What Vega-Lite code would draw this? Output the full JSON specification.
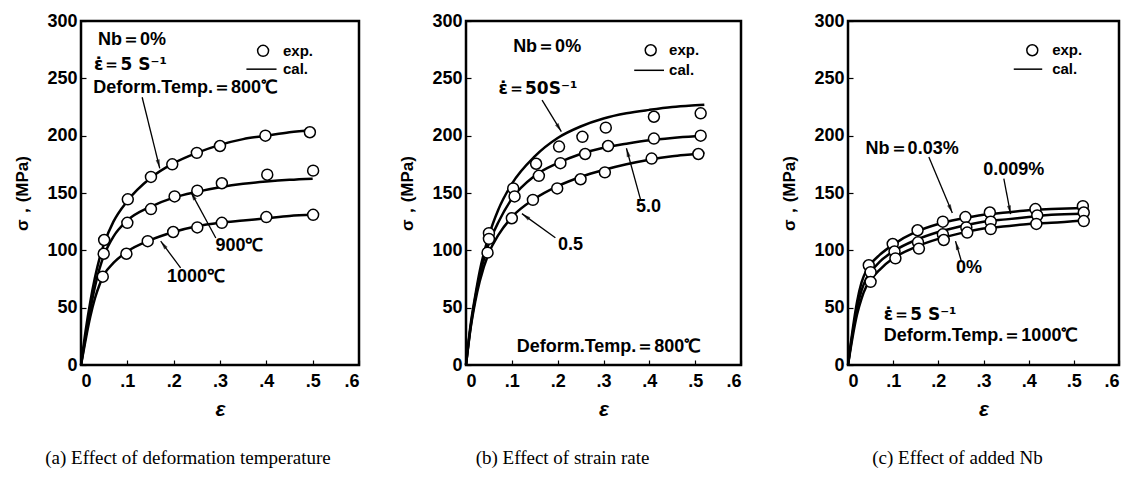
{
  "$schema": "https://vega.github.io/schema/vega-lite/v6.json",
  "background": "white",
  "padding": {"left": 12, "top": 10, "right": 5, "bottom": 5},
  "bounds": "flush",
  "spacing": 107,
  "datasets": {
    "a_pts": [
      {"s": "800", "x": 0.05, "y": 109}, {"s": "800", "x": 0.101, "y": 144.5}, {"s": "800", "x": 0.151, "y": 164}, {"s": "800", "x": 0.197, "y": 175}, {"s": "800", "x": 0.25, "y": 185}, {"s": "800", "x": 0.3, "y": 191}, {"s": "800", "x": 0.398, "y": 200}, {"s": "800", "x": 0.494, "y": 203},
      {"s": "900", "x": 0.049, "y": 97}, {"s": "900", "x": 0.1, "y": 124}, {"s": "900", "x": 0.151, "y": 136}, {"s": "900", "x": 0.202, "y": 147}, {"s": "900", "x": 0.251, "y": 152}, {"s": "900", "x": 0.304, "y": 158.5}, {"s": "900", "x": 0.402, "y": 166}, {"s": "900", "x": 0.501, "y": 169.5},
      {"s": "1000", "x": 0.047, "y": 77}, {"s": "1000", "x": 0.098, "y": 97}, {"s": "1000", "x": 0.144, "y": 108}, {"s": "1000", "x": 0.199, "y": 116}, {"s": "1000", "x": 0.251, "y": 120}, {"s": "1000", "x": 0.304, "y": 124}, {"s": "1000", "x": 0.4, "y": 129}, {"s": "1000", "x": 0.501, "y": 131}
    ],
    "a_cal": [
      {"s": "800", "x": 0, "y": 0}, {"s": "800", "x": 0.01, "y": 30}, {"s": "800", "x": 0.02, "y": 55}, {"s": "800", "x": 0.03, "y": 76}, {"s": "800", "x": 0.04, "y": 93}, {"s": "800", "x": 0.05, "y": 106}, {"s": "800", "x": 0.07, "y": 125}, {"s": "800", "x": 0.1, "y": 143}, {"s": "800", "x": 0.15, "y": 163}, {"s": "800", "x": 0.2, "y": 176}, {"s": "800", "x": 0.25, "y": 185}, {"s": "800", "x": 0.3, "y": 192}, {"s": "800", "x": 0.35, "y": 197}, {"s": "800", "x": 0.4, "y": 200}, {"s": "800", "x": 0.45, "y": 203}, {"s": "800", "x": 0.5, "y": 205},
      {"s": "900", "x": 0, "y": 0}, {"s": "900", "x": 0.01, "y": 25}, {"s": "900", "x": 0.02, "y": 48}, {"s": "900", "x": 0.03, "y": 68}, {"s": "900", "x": 0.04, "y": 84}, {"s": "900", "x": 0.05, "y": 96}, {"s": "900", "x": 0.07, "y": 112}, {"s": "900", "x": 0.1, "y": 126}, {"s": "900", "x": 0.15, "y": 138}, {"s": "900", "x": 0.2, "y": 146}, {"s": "900", "x": 0.25, "y": 151}, {"s": "900", "x": 0.3, "y": 155}, {"s": "900", "x": 0.35, "y": 158}, {"s": "900", "x": 0.4, "y": 160}, {"s": "900", "x": 0.45, "y": 161.5}, {"s": "900", "x": 0.5, "y": 162.5},
      {"s": "1000", "x": 0, "y": 0}, {"s": "1000", "x": 0.01, "y": 22}, {"s": "1000", "x": 0.02, "y": 42}, {"s": "1000", "x": 0.03, "y": 58}, {"s": "1000", "x": 0.04, "y": 70}, {"s": "1000", "x": 0.05, "y": 79}, {"s": "1000", "x": 0.07, "y": 89}, {"s": "1000", "x": 0.1, "y": 99}, {"s": "1000", "x": 0.15, "y": 109}, {"s": "1000", "x": 0.2, "y": 116}, {"s": "1000", "x": 0.25, "y": 121}, {"s": "1000", "x": 0.3, "y": 124}, {"s": "1000", "x": 0.35, "y": 126}, {"s": "1000", "x": 0.4, "y": 128}, {"s": "1000", "x": 0.45, "y": 130}, {"s": "1000", "x": 0.5, "y": 131}
    ],
    "a_txt": [
      {"x": 0.11, "y": 283, "t": "Nb＝0%"},
      {"x": 0.226, "y": 241.5, "t": "Deform.Temp.＝800℃"},
      {"x": 0.342, "y": 103.5, "t": "900℃"},
      {"x": 0.248, "y": 77, "t": "1000℃"}
    ],
    "a_eps": [{"x": 0.028, "y": 262, "t": "ε̇＝5  S⁻¹"}],
    "a_leg": [{"x": 0.436, "y": 274, "t": "exp."}, {"x": 0.436, "y": 258, "t": "cal."}],
    "a_legpt": [{"x": 0.393, "y": 274}],
    "a_rule": [{"x": 0.357, "y": 258, "x2": 0.422, "y2": 258}],
    "a_arr": [
      {"x": 0.132, "y": 233.5, "x2": 0.17, "y2": 171.5},
      {"x": 0.291, "y": 110.7, "x2": 0.237, "y2": 151},
      {"x": 0.215, "y": 84.7, "x2": 0.172, "y2": 108}
    ],
    "b_pts": [
      {"s": "50", "x": 0.05, "y": 115}, {"s": "50", "x": 0.103, "y": 154}, {"s": "50", "x": 0.153, "y": 175.5}, {"s": "50", "x": 0.203, "y": 190.5}, {"s": "50", "x": 0.254, "y": 199}, {"s": "50", "x": 0.305, "y": 207}, {"s": "50", "x": 0.41, "y": 216.5}, {"s": "50", "x": 0.512, "y": 219.5},
      {"s": "5", "x": 0.05, "y": 110}, {"s": "5", "x": 0.106, "y": 147}, {"s": "5", "x": 0.159, "y": 165}, {"s": "5", "x": 0.206, "y": 176}, {"s": "5", "x": 0.26, "y": 184}, {"s": "5", "x": 0.31, "y": 191}, {"s": "5", "x": 0.41, "y": 197.5}, {"s": "5", "x": 0.512, "y": 200},
      {"s": "0.5", "x": 0.047, "y": 98}, {"s": "0.5", "x": 0.1, "y": 128}, {"s": "0.5", "x": 0.146, "y": 144}, {"s": "0.5", "x": 0.199, "y": 154}, {"s": "0.5", "x": 0.25, "y": 162}, {"s": "0.5", "x": 0.303, "y": 168}, {"s": "0.5", "x": 0.405, "y": 180}, {"s": "0.5", "x": 0.507, "y": 184}
    ],
    "b_cal": [
      {"s": "50", "x": 0, "y": 0}, {"s": "50", "x": 0.01, "y": 35}, {"s": "50", "x": 0.02, "y": 60}, {"s": "50", "x": 0.03, "y": 82}, {"s": "50", "x": 0.05, "y": 113}, {"s": "50", "x": 0.07, "y": 135}, {"s": "50", "x": 0.1, "y": 158}, {"s": "50", "x": 0.15, "y": 182}, {"s": "50", "x": 0.2, "y": 198}, {"s": "50", "x": 0.25, "y": 208}, {"s": "50", "x": 0.3, "y": 215}, {"s": "50", "x": 0.35, "y": 219.5}, {"s": "50", "x": 0.4, "y": 222.5}, {"s": "50", "x": 0.45, "y": 225}, {"s": "50", "x": 0.5, "y": 226.5}, {"s": "50", "x": 0.52, "y": 227},
      {"s": "5", "x": 0, "y": 0}, {"s": "5", "x": 0.01, "y": 33}, {"s": "5", "x": 0.02, "y": 58}, {"s": "5", "x": 0.03, "y": 78}, {"s": "5", "x": 0.05, "y": 106}, {"s": "5", "x": 0.07, "y": 124}, {"s": "5", "x": 0.1, "y": 145}, {"s": "5", "x": 0.15, "y": 165}, {"s": "5", "x": 0.2, "y": 176}, {"s": "5", "x": 0.25, "y": 184}, {"s": "5", "x": 0.3, "y": 189.5}, {"s": "5", "x": 0.35, "y": 193}, {"s": "5", "x": 0.4, "y": 196}, {"s": "5", "x": 0.45, "y": 198}, {"s": "5", "x": 0.5, "y": 199.5}, {"s": "5", "x": 0.52, "y": 200},
      {"s": "0.5", "x": 0, "y": 0}, {"s": "0.5", "x": 0.01, "y": 32}, {"s": "0.5", "x": 0.02, "y": 55}, {"s": "0.5", "x": 0.03, "y": 73}, {"s": "0.5", "x": 0.05, "y": 98}, {"s": "0.5", "x": 0.07, "y": 113}, {"s": "0.5", "x": 0.1, "y": 129}, {"s": "0.5", "x": 0.15, "y": 145}, {"s": "0.5", "x": 0.2, "y": 156}, {"s": "0.5", "x": 0.25, "y": 164}, {"s": "0.5", "x": 0.3, "y": 170}, {"s": "0.5", "x": 0.35, "y": 175}, {"s": "0.5", "x": 0.4, "y": 179}, {"s": "0.5", "x": 0.45, "y": 182}, {"s": "0.5", "x": 0.5, "y": 184}, {"s": "0.5", "x": 0.52, "y": 185}
    ],
    "b_txt": [
      {"x": 0.177, "y": 277.5, "t": "Nb＝0%"},
      {"x": 0.398, "y": 138, "t": "5.0"},
      {"x": 0.228, "y": 105, "t": "0.5"},
      {"x": 0.312, "y": 15.5, "t": "Deform.Temp.＝800℃"}
    ],
    "b_eps": [{"x": 0.071, "y": 241, "t": "ε̇＝50S⁻¹"}],
    "b_leg": [{"x": 0.443, "y": 274.5, "t": "exp."}, {"x": 0.443, "y": 257, "t": "cal."}],
    "b_legpt": [{"x": 0.403, "y": 274.5}],
    "b_rule": [{"x": 0.367, "y": 257, "x2": 0.432, "y2": 257}],
    "b_arr": [
      {"x": 0.166, "y": 231, "x2": 0.208, "y2": 203.5},
      {"x": 0.381, "y": 144, "x2": 0.35, "y2": 189},
      {"x": 0.195, "y": 111, "x2": 0.122, "y2": 132}
    ],
    "c_pts": [
      {"s": "0.03", "x": 0.046, "y": 87}, {"s": "0.03", "x": 0.099, "y": 105.5}, {"s": "0.03", "x": 0.154, "y": 117.5}, {"s": "0.03", "x": 0.21, "y": 125}, {"s": "0.03", "x": 0.26, "y": 129}, {"s": "0.03", "x": 0.314, "y": 133}, {"s": "0.03", "x": 0.415, "y": 136}, {"s": "0.03", "x": 0.52, "y": 138.5},
      {"s": "0.009", "x": 0.05, "y": 81}, {"s": "0.009", "x": 0.103, "y": 99}, {"s": "0.009", "x": 0.155, "y": 107}, {"s": "0.009", "x": 0.21, "y": 114}, {"s": "0.009", "x": 0.262, "y": 120}, {"s": "0.009", "x": 0.316, "y": 125}, {"s": "0.009", "x": 0.419, "y": 130.5}, {"s": "0.009", "x": 0.522, "y": 133},
      {"s": "0", "x": 0.05, "y": 72.5}, {"s": "0", "x": 0.105, "y": 93}, {"s": "0", "x": 0.157, "y": 101.5}, {"s": "0", "x": 0.212, "y": 109}, {"s": "0", "x": 0.264, "y": 115.5}, {"s": "0", "x": 0.316, "y": 118.5}, {"s": "0", "x": 0.417, "y": 123}, {"s": "0", "x": 0.522, "y": 125.5}
    ],
    "c_cal": [
      {"s": "0.03", "x": 0, "y": 0}, {"s": "0.03", "x": 0.01, "y": 30}, {"s": "0.03", "x": 0.02, "y": 55}, {"s": "0.03", "x": 0.03, "y": 72}, {"s": "0.03", "x": 0.04, "y": 82}, {"s": "0.03", "x": 0.05, "y": 88}, {"s": "0.03", "x": 0.07, "y": 96}, {"s": "0.03", "x": 0.1, "y": 105}, {"s": "0.03", "x": 0.15, "y": 116}, {"s": "0.03", "x": 0.2, "y": 123}, {"s": "0.03", "x": 0.25, "y": 127.5}, {"s": "0.03", "x": 0.3, "y": 131}, {"s": "0.03", "x": 0.35, "y": 133}, {"s": "0.03", "x": 0.4, "y": 135}, {"s": "0.03", "x": 0.45, "y": 136}, {"s": "0.03", "x": 0.52, "y": 137},
      {"s": "0.009", "x": 0, "y": 0}, {"s": "0.009", "x": 0.01, "y": 27}, {"s": "0.009", "x": 0.02, "y": 50}, {"s": "0.009", "x": 0.03, "y": 65}, {"s": "0.009", "x": 0.04, "y": 75}, {"s": "0.009", "x": 0.05, "y": 81}, {"s": "0.009", "x": 0.07, "y": 90}, {"s": "0.009", "x": 0.1, "y": 99}, {"s": "0.009", "x": 0.15, "y": 109}, {"s": "0.009", "x": 0.2, "y": 116}, {"s": "0.009", "x": 0.25, "y": 121}, {"s": "0.009", "x": 0.3, "y": 125}, {"s": "0.009", "x": 0.35, "y": 127}, {"s": "0.009", "x": 0.4, "y": 129}, {"s": "0.009", "x": 0.45, "y": 131}, {"s": "0.009", "x": 0.52, "y": 132},
      {"s": "0", "x": 0, "y": 0}, {"s": "0", "x": 0.01, "y": 24}, {"s": "0", "x": 0.02, "y": 44}, {"s": "0", "x": 0.03, "y": 58}, {"s": "0", "x": 0.04, "y": 68}, {"s": "0", "x": 0.05, "y": 74}, {"s": "0", "x": 0.07, "y": 83}, {"s": "0", "x": 0.1, "y": 93}, {"s": "0", "x": 0.15, "y": 103}, {"s": "0", "x": 0.2, "y": 110}, {"s": "0", "x": 0.25, "y": 115}, {"s": "0", "x": 0.3, "y": 119}, {"s": "0", "x": 0.35, "y": 121}, {"s": "0", "x": 0.4, "y": 123}, {"s": "0", "x": 0.45, "y": 124}, {"s": "0", "x": 0.52, "y": 126}
    ],
    "c_txt": [
      {"x": 0.142, "y": 188.5, "t": "Nb＝0.03%"},
      {"x": 0.367, "y": 170, "t": "0.009%"},
      {"x": 0.268, "y": 84.5, "t": "0%"}
    ],
    "c_ltxt": [
      {"x": 0.079, "y": 25.5, "t": "Deform.Temp.＝1000℃"}
    ],
    "c_eps": [{"x": 0.079, "y": 44, "t": "ε̇＝5  S⁻¹"}],
    "c_leg": [{"x": 0.452, "y": 274.5, "t": "exp."}, {"x": 0.452, "y": 258, "t": "cal."}],
    "c_legpt": [{"x": 0.408, "y": 274.5}],
    "c_rule": [{"x": 0.367, "y": 258, "x2": 0.43, "y2": 258}],
    "c_arr": [
      {"x": 0.179, "y": 181.5, "x2": 0.231, "y2": 132.5},
      {"x": 0.345, "y": 162.5, "x2": 0.36, "y2": 131.5},
      {"x": 0.251, "y": 90.5, "x2": 0.238, "y2": 108}
    ]
  },
  "config": {
    "view": {"stroke": "black", "strokeWidth": 2.5},
    "axis": {"grid": false, "domain": false, "ticks": true, "tickColor": "black", "tickSize": -5, "tickWidth": 1.2, "labelFont": "Liberation Sans", "labelFontWeight": "bold", "labelFontSize": 18, "labelColor": "black", "titleColor": "black", "labelPadding": 9},
    "text": {"font": "Liberation Sans", "fontWeight": "bold", "fontSize": 18, "color": "black"},
    "title": {"font": "Liberation Serif", "fontWeight": "normal", "fontSize": 19, "color": "black", "orient": "bottom", "offset": 30}
  },
  "hconcat": [
    {
      "width": 278, "height": 344,
      "title": {"text": "(a) Effect of deformation temperature", "orient": "bottom", "dx": -32},
      "encoding": {
        "x": {"field": "x", "type": "quantitative", "scale": {"domain": [0, 0.6], "nice": false}, "axis": {"title": "ε", "titleFont": "Liberation Sans", "titleFontStyle": "italic", "titleFontWeight": "bold", "titleFontSize": 21, "titlePadding": 8, "labelPadding": 12, "values": [0, 0.1, 0.2, 0.3, 0.4, 0.5, 0.6], "labelExpr": "datum.value === 0 ? '0' : slice(format(datum.value, '.1f'), 1)"}},
        "y": {"field": "y", "type": "quantitative", "scale": {"domain": [0, 300], "nice": false}, "axis": {"title": "σ，(MPa)", "titleFont": "Liberation Sans", "titleFontWeight": "bold", "titleFontSize": 17, "titlePadding": 15, "values": [0, 50, 100, 150, 200, 250, 300]}}
      },
      "layer": [
        {"data": {"name": "a_cal"}, "mark": {"type": "line", "color": "black", "strokeWidth": 2.5, "interpolate": "monotone"}, "encoding": {"detail": {"field": "s"}}},
        {"data": {"name": "a_rule"}, "mark": {"type": "rule", "color": "black", "strokeWidth": 1.5}, "encoding": {"x2": {"field": "x2"}, "y2": {"field": "y2"}}},
        {"data": {"name": "a_arr"}, "mark": {"type": "rule", "color": "black", "strokeWidth": 1.3}, "encoding": {"x2": {"field": "x2"}, "y2": {"field": "y2"}}},
        {"data": {"name": "a_arr"}, "transform": [{"calculate": "atan2((datum.x2-datum.x)*463.3,(datum.y2-datum.y)*1.1467)*180/PI", "as": "ang"}], "mark": {"type": "point", "shape": "M0,0L-0.5,2.2L0.5,2.2Z", "filled": true, "color": "black", "size": 64}, "encoding": {"x": {"field": "x2", "type": "quantitative"}, "y": {"field": "y2", "type": "quantitative"}, "angle": {"field": "ang", "type": "quantitative", "scale": null}}},
        {"data": {"name": "a_pts"}, "mark": {"type": "point", "shape": "circle", "filled": false, "fill": "white", "fillOpacity": 1, "stroke": "black", "strokeWidth": 1.5, "size": 120, "opacity": 1}},
        {"data": {"name": "a_legpt"}, "mark": {"type": "point", "shape": "circle", "filled": false, "fill": "white", "fillOpacity": 1, "stroke": "black", "strokeWidth": 1.5, "size": 120, "opacity": 1}},
        {"data": {"name": "a_txt"}, "mark": {"type": "text", "align": "center", "baseline": "middle"}, "encoding": {"text": {"field": "t"}}},
        {"data": {"name": "a_eps"}, "mark": {"type": "text", "align": "left", "baseline": "middle", "font": "DejaVu Sans", "fontSize": 17}, "encoding": {"text": {"field": "t"}}},
        {"data": {"name": "a_leg"}, "mark": {"type": "text", "align": "left", "baseline": "middle", "fontSize": 15}, "encoding": {"text": {"field": "t"}}}
      ]
    },
    {
      "width": 275, "height": 344,
      "title": {"text": "(b) Effect of strain rate", "orient": "bottom", "dx": -41},
      "encoding": {
        "x": {"field": "x", "type": "quantitative", "scale": {"domain": [0, 0.6], "nice": false}, "axis": {"title": "ε", "titleFont": "Liberation Sans", "titleFontStyle": "italic", "titleFontWeight": "bold", "titleFontSize": 21, "titlePadding": 8, "labelPadding": 12, "values": [0, 0.1, 0.2, 0.3, 0.4, 0.5, 0.6], "labelExpr": "datum.value === 0 ? '0' : slice(format(datum.value, '.1f'), 1)"}},
        "y": {"field": "y", "type": "quantitative", "scale": {"domain": [0, 300], "nice": false}, "axis": {"title": "σ，(MPa)", "titleFont": "Liberation Sans", "titleFontWeight": "bold", "titleFontSize": 17, "titlePadding": 15, "values": [0, 50, 100, 150, 200, 250, 300]}}
      },
      "layer": [
        {"data": {"name": "b_cal"}, "mark": {"type": "line", "color": "black", "strokeWidth": 2.5, "interpolate": "monotone"}, "encoding": {"detail": {"field": "s"}}},
        {"data": {"name": "b_rule"}, "mark": {"type": "rule", "color": "black", "strokeWidth": 1.5}, "encoding": {"x2": {"field": "x2"}, "y2": {"field": "y2"}}},
        {"data": {"name": "b_arr"}, "mark": {"type": "rule", "color": "black", "strokeWidth": 1.3}, "encoding": {"x2": {"field": "x2"}, "y2": {"field": "y2"}}},
        {"data": {"name": "b_arr"}, "transform": [{"calculate": "atan2((datum.x2-datum.x)*458.3,(datum.y2-datum.y)*1.1467)*180/PI", "as": "ang"}], "mark": {"type": "point", "shape": "M0,0L-0.5,2.2L0.5,2.2Z", "filled": true, "color": "black", "size": 64}, "encoding": {"x": {"field": "x2", "type": "quantitative"}, "y": {"field": "y2", "type": "quantitative"}, "angle": {"field": "ang", "type": "quantitative", "scale": null}}},
        {"data": {"name": "b_pts"}, "mark": {"type": "point", "shape": "circle", "filled": false, "fill": "white", "fillOpacity": 1, "stroke": "black", "strokeWidth": 1.5, "size": 120, "opacity": 1}},
        {"data": {"name": "b_legpt"}, "mark": {"type": "point", "shape": "circle", "filled": false, "fill": "white", "fillOpacity": 1, "stroke": "black", "strokeWidth": 1.5, "size": 120, "opacity": 1}},
        {"data": {"name": "b_txt"}, "mark": {"type": "text", "align": "center", "baseline": "middle"}, "encoding": {"text": {"field": "t"}}},
        {"data": {"name": "b_eps"}, "mark": {"type": "text", "align": "left", "baseline": "middle", "font": "DejaVu Sans", "fontSize": 17}, "encoding": {"text": {"field": "t"}}},
        {"data": {"name": "b_leg"}, "mark": {"type": "text", "align": "left", "baseline": "middle", "fontSize": 15}, "encoding": {"text": {"field": "t"}}}
      ]
    },
    {
      "width": 271, "height": 344,
      "title": {"text": "(c) Effect of added Nb", "orient": "bottom", "dx": -26},
      "encoding": {
        "x": {"field": "x", "type": "quantitative", "scale": {"domain": [0, 0.6], "nice": false}, "axis": {"title": "ε", "titleFont": "Liberation Sans", "titleFontStyle": "italic", "titleFontWeight": "bold", "titleFontSize": 21, "titlePadding": 8, "labelPadding": 12, "values": [0, 0.1, 0.2, 0.3, 0.4, 0.5, 0.6], "labelExpr": "datum.value === 0 ? '0' : slice(format(datum.value, '.1f'), 1)"}},
        "y": {"field": "y", "type": "quantitative", "scale": {"domain": [0, 300], "nice": false}, "axis": {"title": "σ，(MPa)", "titleFont": "Liberation Sans", "titleFontWeight": "bold", "titleFontSize": 17, "titlePadding": 15, "values": [0, 50, 100, 150, 200, 250, 300]}}
      },
      "layer": [
        {"data": {"name": "c_cal"}, "mark": {"type": "line", "color": "black", "strokeWidth": 2.5, "interpolate": "monotone"}, "encoding": {"detail": {"field": "s"}}},
        {"data": {"name": "c_rule"}, "mark": {"type": "rule", "color": "black", "strokeWidth": 1.5}, "encoding": {"x2": {"field": "x2"}, "y2": {"field": "y2"}}},
        {"data": {"name": "c_arr"}, "mark": {"type": "rule", "color": "black", "strokeWidth": 1.3}, "encoding": {"x2": {"field": "x2"}, "y2": {"field": "y2"}}},
        {"data": {"name": "c_arr"}, "transform": [{"calculate": "atan2((datum.x2-datum.x)*451.7,(datum.y2-datum.y)*1.1467)*180/PI", "as": "ang"}], "mark": {"type": "point", "shape": "M0,0L-0.5,2.2L0.5,2.2Z", "filled": true, "color": "black", "size": 64}, "encoding": {"x": {"field": "x2", "type": "quantitative"}, "y": {"field": "y2", "type": "quantitative"}, "angle": {"field": "ang", "type": "quantitative", "scale": null}}},
        {"data": {"name": "c_pts"}, "mark": {"type": "point", "shape": "circle", "filled": false, "fill": "white", "fillOpacity": 1, "stroke": "black", "strokeWidth": 1.5, "size": 120, "opacity": 1}},
        {"data": {"name": "c_legpt"}, "mark": {"type": "point", "shape": "circle", "filled": false, "fill": "white", "fillOpacity": 1, "stroke": "black", "strokeWidth": 1.5, "size": 120, "opacity": 1}},
        {"data": {"name": "c_txt"}, "mark": {"type": "text", "align": "center", "baseline": "middle"}, "encoding": {"text": {"field": "t"}}},
        {"data": {"name": "c_ltxt"}, "mark": {"type": "text", "align": "left", "baseline": "middle"}, "encoding": {"text": {"field": "t"}}},
        {"data": {"name": "c_eps"}, "mark": {"type": "text", "align": "left", "baseline": "middle", "font": "DejaVu Sans", "fontSize": 17}, "encoding": {"text": {"field": "t"}}},
        {"data": {"name": "c_leg"}, "mark": {"type": "text", "align": "left", "baseline": "middle", "fontSize": 15}, "encoding": {"text": {"field": "t"}}}
      ]
    }
  ]
}
